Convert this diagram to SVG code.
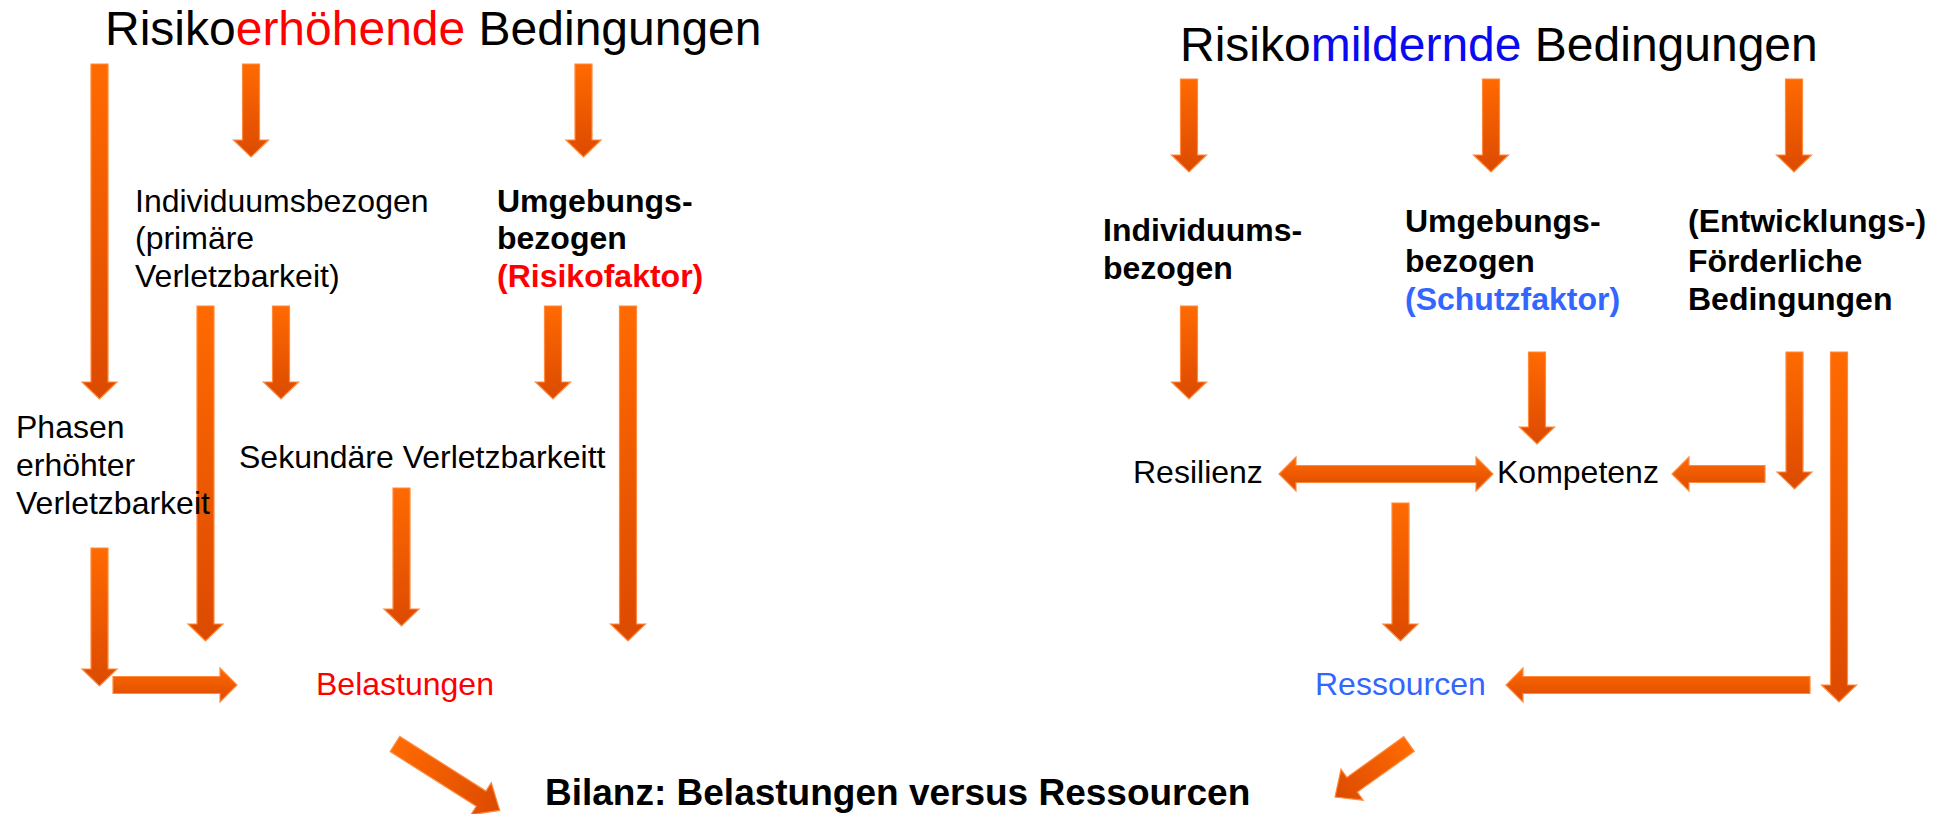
<svg xmlns="http://www.w3.org/2000/svg" width="1946" height="814" viewBox="0 0 1946 814">
<defs>
<linearGradient id="g" x1="0" y1="0" x2="0" y2="1">
<stop offset="0" stop-color="#FF6A00"/>
<stop offset="1" stop-color="#DC4A00"/>
</linearGradient>
<linearGradient id="gd" x1="0" y1="0" x2="1" y2="0">
<stop offset="0" stop-color="#FF6A00"/>
<stop offset="1" stop-color="#DC4A00"/>
</linearGradient>
</defs>
<style>
text{font-family:"Liberation Sans",Arial,sans-serif;font-size:32px;fill:#000}
.t{font-size:48px}
.b{font-weight:bold}
.red{fill:#FF0000}
.blue{fill:#0A0AF0}
.lb{fill:#3366FF}
.arr{fill:url(#g);stroke:#FF8A3D;stroke-width:1.2;stroke-linejoin:miter}
.arrd{fill:url(#gd);stroke:#FF8A3D;stroke-width:1.2}
</style>
<rect width="1946" height="814" fill="#fff"/>

<g id="connectors">
<polygon class="arr" points="91,64 108,64 108,382 117,382 99.5,399 82,382 91,382"/>
<polygon class="arr" points="242.5,64 259.5,64 259.5,140 268.5,140 251,157 233.5,140 242.5,140"/>
<polygon class="arr" points="575,64 592,64 592,140 601,140 583.5,157 566,140 575,140"/>
<polygon class="arr" points="197,306 214,306 214,624 223,624 205.5,641 188,624 197,624"/>
<polygon class="arr" points="272.5,306 289.5,306 289.5,382 298.5,382 281,399 263.5,382 272.5,382"/>
<polygon class="arr" points="544.5,306 561.5,306 561.5,382 570.5,382 553,399 535.5,382 544.5,382"/>
<polygon class="arr" points="619.5,306 636.5,306 636.5,624 645.5,624 628,641 610.5,624 619.5,624"/>
<polygon class="arr" points="393,488 410,488 410,609 419,609 401.5,626 384,609 393,609"/>
<polygon class="arr" points="91,548 108,548 108,669 117,669 99.5,686 82,669 91,669"/>
<polygon class="arr" points="113,676.5 220,676.5 220,668 237,685 220,702 220,693.5 113,693.5"/>
<polygon class="arrd" transform="translate(395,744) rotate(32.4)" points="0,-9 102,-9 102,-19 124,0 102,19 102,9 0,9"/>

<polygon class="arr" points="1180.5,79 1197.5,79 1197.5,155 1206.5,155 1189,172 1171.5,155 1180.5,155"/>
<polygon class="arr" points="1482.5,79 1499.5,79 1499.5,155 1508.5,155 1491,172 1473.5,155 1482.5,155"/>
<polygon class="arr" points="1785.5,79 1802.5,79 1802.5,155 1811.5,155 1794,172 1776.5,155 1785.5,155"/>
<polygon class="arr" points="1180.5,306 1197.5,306 1197.5,382 1206.5,382 1189,399 1171.5,382 1180.5,382"/>
<polygon class="arr" points="1528.5,352 1545.5,352 1545.5,427 1554.5,427 1537,444 1519.5,427 1528.5,427"/>
<polygon class="arr" points="1786,352 1803,352 1803,472 1812,472 1794.5,489 1777,472 1786,472"/>
<polygon class="arr" points="1830.5,352 1847.5,352 1847.5,685 1856.5,685 1839,702 1821.5,685 1830.5,685"/>
<polygon class="arr" points="1392,503 1409,503 1409,624 1418,624 1400.5,641 1383,624 1392,624"/>
<polygon class="arr" points="1279,474 1296,457 1296,465.5 1476,465.5 1476,457 1493,474 1476,491 1476,482.5 1296,482.5 1296,491"/>
<polygon class="arr" points="1765,465.5 1689,465.5 1689,457 1672,474 1689,491 1689,482.5 1765,482.5"/>
<polygon class="arr" points="1810,676.5 1523,676.5 1523,668 1506,685 1523,702 1523,693.5 1810,693.5"/>
<polygon class="arrd" transform="translate(1409,744) rotate(144.4)" points="0,-9 70,-9 70,-19 91,0 70,19 70,9 0,9"/>
</g>

<g id="title-left"><text class="t" x="105" y="45">Risiko<tspan class="red">erhöhende</tspan> Bedingungen</text></g>
<g id="title-right"><text class="t" x="1180" y="61">Risiko<tspan class="blue">mildernde</tspan> Bedingungen</text></g>

<g id="individuum-left"><text x="135" y="212">Individuumsbezogen</text><text x="135" y="249">(primäre</text><text x="135" y="287">Verletzbarkeit)</text></g>
<g id="umgebung-left"><text class="b" x="497" y="212">Umgebungs-</text><text class="b" x="497" y="249">bezogen</text><text class="b red" x="497" y="287">(Risikofaktor)</text></g>
<g id="phasen"><text x="16" y="438">Phasen</text><text x="16" y="476">erhöhter</text><text x="16" y="514">Verletzbarkeit</text></g>
<g id="sekundaer"><text x="239" y="468">Sekundäre Verletzbarkeitt</text></g>
<g id="belastungen"><text class="red" x="316" y="695">Belastungen</text></g>
<g id="bilanz"><text class="b" x="545" y="805" style="font-size:37px">Bilanz: Belastungen versus Ressourcen</text></g>

<g id="individuum-right"><text class="b" x="1103" y="241">Individuums-</text><text class="b" x="1103" y="279">bezogen</text></g>
<g id="umgebung-right"><text class="b" x="1405" y="232">Umgebungs-</text><text class="b" x="1405" y="272">bezogen</text><text class="b lb" x="1405" y="310">(Schutzfaktor)</text></g>
<g id="foerderlich"><text class="b" x="1688" y="232">(Entwicklungs-)</text><text class="b" x="1688" y="272">Förderliche</text><text class="b" x="1688" y="310">Bedingungen</text></g>
<g id="resilienz"><text x="1133" y="483">Resilienz</text></g>
<g id="kompetenz"><text x="1497" y="483">Kompetenz</text></g>
<g id="ressourcen"><text class="lb" x="1315" y="695">Ressourcen</text></g>
</svg>
